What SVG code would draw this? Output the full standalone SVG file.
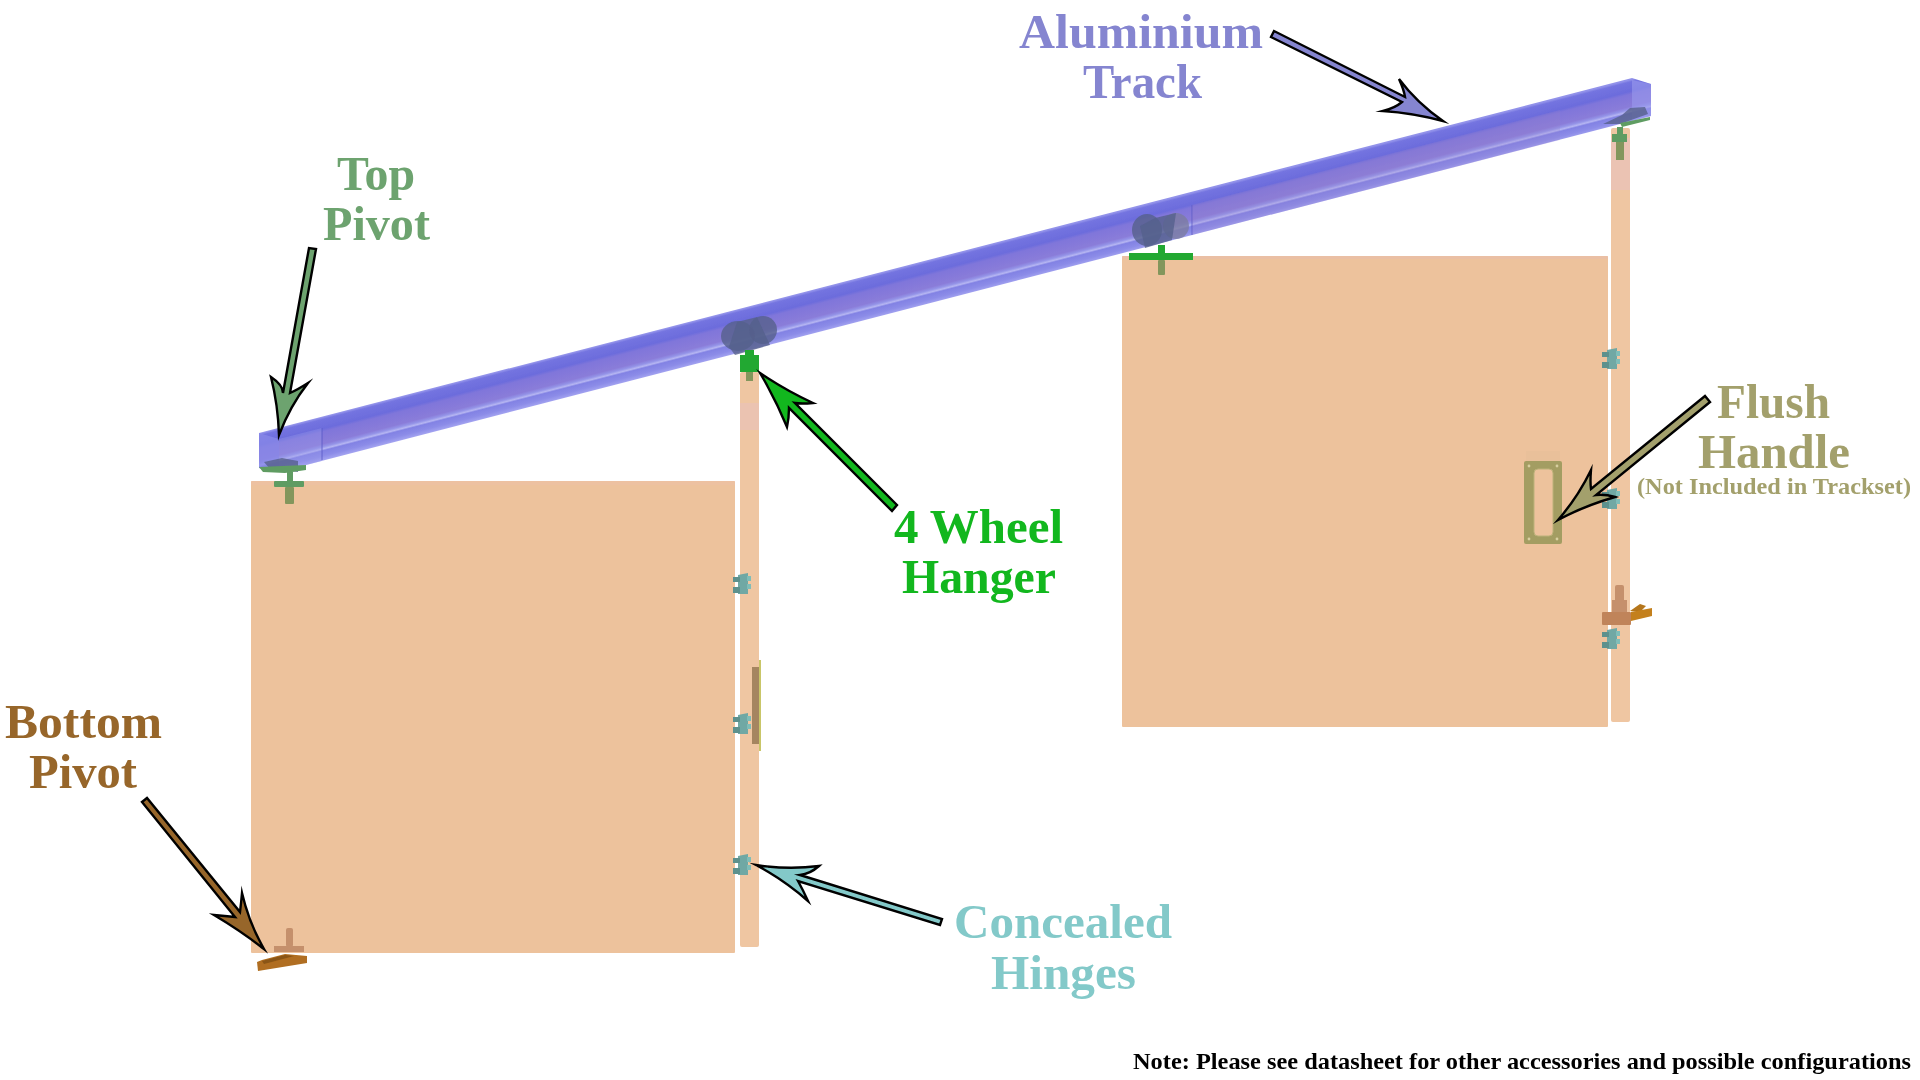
<svg xmlns="http://www.w3.org/2000/svg" width="1920" height="1080" viewBox="0 0 1920 1080">
<style>
text{font-family:"Liberation Serif","Times New Roman",serif;font-weight:700;text-anchor:start}
.lab{font-size:49px}
.door{fill:#edc29c}
.panel{fill:#efc6a2}
.arrow{stroke:#000;stroke-width:2.4;stroke-linejoin:miter;stroke-miterlimit:8}
.wheel{fill:#55608c;opacity:.8}
.grn{fill:#5f9c62}
.lime{fill:#22a832}
.post{fill:#83965c}
.pb{fill:#c5906c}
.or{fill:#b06e20}
.soft{filter:url(#soft)}
</style>
<defs>
<filter id="soft" x="-10%" y="-10%" width="120%" height="120%"><feGaussianBlur stdDeviation=".6"/></filter>
<linearGradient id="tg" gradientUnits="userSpaceOnUse" x1="680" y1="325" x2="690.4" y2="365.3">
<stop offset="0" stop-color="#9292ea"/><stop offset=".05" stop-color="#7474e0"/><stop offset=".27" stop-color="#6c6cdc"/><stop offset=".34" stop-color="#8076da"/><stop offset=".62" stop-color="#8a7cd9"/><stop offset=".69" stop-color="#9494e8"/><stop offset=".74" stop-color="#b6b6f2"/><stop offset=".78" stop-color="#8282e4"/><stop offset=".9" stop-color="#8c8ce8"/><stop offset="1" stop-color="#a2a2f0"/>
</linearGradient>
<g id="hinge">
<path fill="#6fa8a4" d="M5 2L15 0V21L5 21Z"/>
<path fill="#5d918d" d="M0 4H7V9H0ZM0 14H7V20H0Z"/>
<path fill="#7fbdb8" d="M14 3H18V8H14ZM14 11H18V16H14Z"/>
</g>
</defs>
<rect width="1920" height="1080" fill="#fff"/>

<g id="door-left" class="soft">
<rect class="door" x="251" y="481" width="484" height="472" rx="1"/>
<rect x="251" y="481" width="484" height="4" fill="#eebfa6" opacity=".5"/>
</g>
<g id="panel-left" class="soft">
<rect class="panel" x="740" y="372" width="19" height="575" rx="2"/>
<rect x="740" y="403" width="19" height="27" fill="#eac2b8" opacity=".7"/>
<rect x="752" y="667" width="8" height="77" fill="#a58561"/>
<rect x="759" y="660" width="2" height="91" fill="#c9c668"/>
</g>
<g id="door-right" class="soft">
<rect class="door" x="1122" y="256" width="486" height="471" rx="1"/>
<rect x="1122" y="256" width="486" height="3" fill="#e8bcaa" opacity=".6"/>
</g>
<g id="panel-right" class="soft">
<rect class="panel" x="1611" y="128" width="19" height="594" rx="2"/>
<rect x="1611" y="138" width="19" height="52" fill="#eac2b8" opacity=".8"/>
</g>

<g id="track" class="soft">
<path fill="url(#tg)" d="M259 433L1632 78L1651 84V116L279 472L259 468Z"/>
<path fill="#8a8ae8" opacity=".75" d="M259 433L279 439V472L259 468Z"/>
<path fill="#9a9aec" opacity=".35" d="M279 439L322 428V461L279 472Z"/>
<path fill="#9a9aec" opacity=".6" d="M1632 80L1651 84V116L1632 121Z"/>
<path fill="none" stroke="#5a5ac8" stroke-width="1.4" opacity=".6" d="M322 428V460M1192 205V235"/>
<path fill="#9a84c8" opacity=".2" d="M1192 205L1560 110V140L1192 235Z"/>
</g>

<g id="top-pivot" class="soft">
<path class="wheel" d="M264 462L282 458L298 461L298 472L270 469Z"/>
<path class="grn" d="M259 467L306 465V470L285 473L263 472Z"/>
<rect class="grn" x="287" y="472" width="6" height="10"/>
<rect class="grn" x="274" y="481" width="30" height="6" rx="1"/>
<rect class="post" x="285" y="487" width="9" height="17" rx="1"/>
</g>
<g id="hanger-left" class="soft">
<ellipse class="wheel" cx="738" cy="336" rx="17" ry="15"/>
<ellipse class="wheel" cx="763" cy="330" rx="14" ry="14"/>
<path class="wheel" d="M729 347L737 322L757 317L770 345L735 355Z"/>
<rect class="lime" x="745" y="350" width="9" height="10"/>
<rect class="lime" x="740" y="355" width="19" height="17"/>
<rect class="post" x="746" y="372" width="7" height="9"/>
</g>
<g id="hanger-right" class="soft">
<ellipse class="wheel" cx="1147" cy="230" rx="15" ry="16"/>
<circle cx="1176" cy="226" r="13" fill="#7c7ca0" opacity=".8"/>
<path class="wheel" d="M1145 248L1172 240L1176 213L1155 218L1140 226Z"/>
<rect class="lime" x="1158" y="245" width="7" height="9"/>
<rect class="lime" x="1129" y="253" width="64" height="7"/>
<rect class="post" x="1158" y="260" width="7" height="15" rx="1"/>
</g>
<g id="top-pivot-right" class="soft">
<path class="wheel" d="M1603 124L1622 115L1630 108L1645 107L1648 114L1620 124Z"/>
<path class="grn" d="M1620 123L1650 117V120L1622 127Z"/>
<rect class="grn" x="1617" y="127" width="6" height="8"/>
<rect class="grn" x="1612" y="134" width="15" height="8"/>
<rect class="post" x="1616" y="142" width="8" height="18"/>
</g>

<g id="hinges" class="soft">
<use href="#hinge" x="733" y="573"/>
<use href="#hinge" x="733" y="713"/>
<use href="#hinge" x="733" y="854"/>
<use href="#hinge" x="1602" y="348"/>
<use href="#hinge" x="1602" y="488"/>
<use href="#hinge" x="1602" y="628"/>
</g>

<g id="flush-handle" class="soft">
<rect x="1526" y="451" width="34" height="10" fill="#e9c09a"/>
<rect x="1524" y="461" width="38" height="83" rx="2" fill="#a39d62"/>
<rect x="1534" y="469" width="19" height="67" rx="4" fill="#edc29c" stroke="#bdb27a" stroke-width="1"/>
<g fill="#d8cfa0"><circle cx="1529" cy="466" r="1.4"/><circle cx="1557" cy="466" r="1.4"/><circle cx="1529" cy="539" r="1.4"/><circle cx="1557" cy="539" r="1.4"/></g>
</g>

<g id="bottom-pivot-left" class="soft">
<path class="or" d="M257 962L262 960L285 954L307 956V963L258 971Z"/>
<path fill="#8a5418" d="M262 961L285 955L294 956L264 964Z"/>
<rect class="pb" x="286" y="928" width="7" height="19" rx="2"/>
<rect class="pb" x="274" y="946" width="30" height="6"/>
</g>
<g id="bottom-pivot-right" class="soft">
<path fill="#b5761a" d="M1630 611L1640 604L1646 606L1640 612Z"/>
<path fill="#c4801c" d="M1631 612L1652 608V616L1631 621Z"/>
<rect class="pb" x="1615" y="585" width="9" height="20" rx="2"/>
<rect class="pb" x="1612" y="600" width="15" height="14"/>
<rect fill="#c0845a" x="1602" y="612" width="29" height="13" rx="1"/>
</g>

<g id="connectors">
<path class="arrow" fill="#8585d0" d="M1443 121Q1417 103 1399 79Q1404 90 1405 97L1274 31L1271 37L1402 102Q1395 108 1383 111Q1413 113 1443 121Z"/>
<path class="arrow" fill="#6da36f" d="M279 435Q278 405 271 377Q283 385 283 393L309 248L316 249L290 393Q297 390 308 383Q290 406 279 435Z"/>
<path class="arrow" fill="#12b71e" d="M760 373Q785 390 813 403Q801 404 795 403L897 505L892 511L789 408Q789 418 787 427Q775 398 760 373Z"/>
<path class="arrow" fill="#83c9c9" d="M756 865Q788 870 819 866Q810 874 800 875L942 919L940 925L798 881Q803 890 808 901Q784 880 756 865Z"/>
<path class="arrow" fill="#a3a06c" d="M1558 520Q1578 497 1591 470Q1590 482 1591 489L1705 396L1710 402L1596 495Q1605 494 1615 497Q1584 506 1558 520Z"/>
<path class="arrow" fill="#97662a" d="M264 949Q249 923 242 893Q241 904 240 912L147 798L142 802L235 917Q225 916 214 915Q241 931 264 949Z"/>
</g>

<g id="label-track" fill="#8585d0">
<text class="lab" x="1019" y="48" textLength="244" lengthAdjust="spacingAndGlyphs">Aluminium</text>
<text class="lab" x="1083" y="98" textLength="119" lengthAdjust="spacingAndGlyphs">Track</text>
</g>
<g id="label-top-pivot" fill="#6da36f">
<text class="lab" x="337" y="190" textLength="78" lengthAdjust="spacingAndGlyphs">Top</text>
<text class="lab" x="323" y="240" textLength="107" lengthAdjust="spacingAndGlyphs">Pivot</text>
</g>
<g id="label-hanger" fill="#12b71e">
<text class="lab" x="894" y="543" textLength="169" lengthAdjust="spacingAndGlyphs">4 Wheel</text>
<text class="lab" x="902" y="593" textLength="154" lengthAdjust="spacingAndGlyphs">Hanger</text>
</g>
<g id="label-handle" fill="#a3a06c">
<text class="lab" x="1717" y="418" textLength="113" lengthAdjust="spacingAndGlyphs">Flush</text>
<text class="lab" x="1698" y="468" textLength="152" lengthAdjust="spacingAndGlyphs">Handle</text>
<text x="1637" y="494" font-size="23" textLength="274" lengthAdjust="spacingAndGlyphs">(Not Included in Trackset)</text>
</g>
<g id="label-bottom-pivot" fill="#97662a">
<text class="lab" x="5" y="738" textLength="157" lengthAdjust="spacingAndGlyphs">Bottom</text>
<text class="lab" x="29" y="788" textLength="108" lengthAdjust="spacingAndGlyphs">Pivot</text>
</g>
<g id="label-hinges" fill="#83c9c9">
<text class="lab" x="954" y="938" textLength="218" lengthAdjust="spacingAndGlyphs">Concealed</text>
<text class="lab" x="991" y="989" textLength="145" lengthAdjust="spacingAndGlyphs">Hinges</text>
</g>
<g id="note" fill="#000">
<text x="1133" y="1069" font-size="23" textLength="778" lengthAdjust="spacingAndGlyphs">Note: Please see datasheet for other accessories and possible configurations</text>
</g>
</svg>
